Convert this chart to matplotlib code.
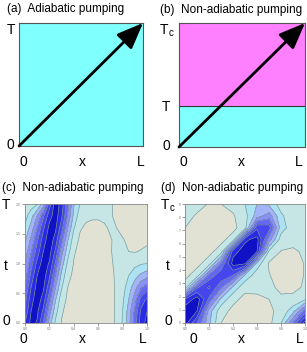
import numpy as np
import matplotlib
matplotlib.use("Agg")
import matplotlib.pyplot as plt
from matplotlib.colors import ListedColormap, BoundaryNorm

plt.rcParams['font.family'] = ['Liberation Sans', 'DejaVu Sans']

W, H = 307, 352

# ---------------- data ----------------
titles = ["(a)  Adiabatic pumping", "(b)  Non-adiabatic pumping",
          "(c)  Non-adiabatic pumping", "(d)  Non-adiabatic pumping"]
x_labels = ["0", "x", "L"]
T_frac_b = 0.33          # level of T inside Tc in panel (b)

# panel (c): rows t = 0..1 step 0.1, columns x = 0..1 step 0.05
field_c = [
    [7.0, 8.3, 7.9, 5.9, 3.5, 1.8, 0.95, 0.7, 0.55, 0.5, 0.5, 0.5, 0.5, 0.6, 0.8, 1.1, 2.1, 3.6, 5.5, 7.5, 8.3],
    [6.2, 8.0, 8.2, 6.8, 4.4, 2.4, 1.1, 0.75, 0.6, 0.5, 0.5, 0.5, 0.5, 0.6, 0.8, 1.1, 2.0, 3.4, 5.2, 7.2, 8.0],
    [5.6, 7.6, 8.6, 7.6, 5.4, 3.1, 1.4, 0.85, 0.65, 0.55, 0.5, 0.5, 0.5, 0.6, 0.8, 1.1, 1.8, 3.0, 4.5, 6.3, 7.2],
    [5.0, 7.0, 8.4, 8.2, 6.4, 4.0, 2.1, 1.0, 0.7, 0.55, 0.5, 0.5, 0.5, 0.6, 0.8, 1.1, 1.6, 2.5, 3.6, 4.8, 5.5],
    [4.5, 6.3, 8.0, 8.5, 7.2, 4.9, 2.7, 1.3, 0.8, 0.6, 0.5, 0.5, 0.5, 0.6, 0.85, 1.1, 1.4, 2.0, 2.6, 3.2, 3.6],
    [4.0, 5.6, 7.3, 8.5, 7.9, 5.9, 3.5, 1.8, 0.95, 0.7, 0.55, 0.5, 0.5, 0.6, 0.9, 1.15, 1.3, 1.5, 1.7, 1.9, 2.0],
    [3.4, 4.9, 6.5, 8.0, 8.4, 6.8, 4.4, 2.4, 1.1, 0.75, 0.6, 0.55, 0.6, 0.7, 0.95, 1.2, 1.15, 1.0, 0.95, 1.05, 1.2],
    [2.8, 4.2, 5.8, 7.5, 8.6, 7.6, 5.4, 3.1, 1.5, 0.85, 0.65, 0.6, 0.65, 0.75, 0.95, 1.15, 1.05, 0.85, 0.75, 0.75, 0.8],
    [2.2, 3.4, 5.0, 6.8, 8.3, 8.2, 6.4, 4.0, 2.1, 1.1, 0.85, 0.8, 0.8, 0.9, 1.1, 1.0, 0.8, 0.7, 0.65, 0.65, 0.65],
    [1.6, 2.6, 4.0, 5.8, 7.6, 8.5, 7.2, 4.9, 2.7, 1.5, 1.2, 1.1, 1.1, 1.15, 1.05, 0.9, 0.75, 0.65, 0.6, 0.6, 0.6],
    [1.2, 1.5, 1.9, 3.5, 6.5, 8.6, 7.6, 5.4, 3.1, 2.0, 1.5, 1.35, 1.25, 1.15, 1.05, 0.9, 0.75, 0.65, 0.6, 0.6, 0.6],
]

# panel (d): rows t = 0..1 step 0.1, columns x = 0..1 step 0.1
field_d = [
    [8.5, 6.0, 3.2, 1.0, 0.6, 0.5, 0.5, 0.7, 2.0, 5.0, 8.6],
    [8.8, 8.0, 3.5, 1.3, 0.8, 0.5, 0.55, 0.8, 1.3, 2.6, 5.5],
    [7.0, 8.6, 5.8, 2.8, 1.2, 0.8, 0.85, 1.0, 1.15, 1.2, 1.8],
    [1.5, 5.8, 7.2, 5.2, 2.8, 1.2, 1.2, 1.2, 0.8, 0.8, 1.1],
    [0.7, 1.5, 5.2, 6.8, 6.0, 2.8, 1.4, 1.05, 0.6, 0.6, 1.05],
    [0.5, 0.7, 1.5, 5.0, 8.4, 8.2, 2.6, 0.9, 0.6, 0.6, 1.05],
    [0.5, 0.5, 0.7, 1.5, 7.6, 8.5, 8.0, 1.8, 0.95, 0.9, 1.1],
    [0.6, 0.5, 0.5, 0.7, 1.5, 7.8, 8.4, 4.5, 1.5, 1.2, 1.2],
    [1.0, 0.6, 0.5, 0.5, 0.7, 1.6, 6.8, 6.5, 2.5, 1.4, 1.2],
    [1.3, 0.9, 0.6, 0.6, 0.9, 1.6, 3.5, 4.5, 2.2, 1.3, 1.2],
    [1.6, 1.3, 0.95, 1.0, 1.3, 2.0, 3.0, 2.8, 1.5, 1.3, 1.2],
]

levels = [0, 1, 2, 3, 4, 5, 6, 7, 8, 20]
band_colors = ['#E1E2D4', '#C6E6E6', '#ACE2F2', '#A4B4F8', '#8A8EF7',
               '#6668F3', '#4646EF', '#2A2AE6', '#1010C4']

c_xticks = [0.0, 0.2, 0.4, 0.6, 0.8, 1.0]
c_xticklabels = ["0.0", "0.2", "0.4", "0.6", "0.8", "1.0"]
c_yticks = [0.0, 0.25, 0.5, 0.75, 1.0]
c_yticklabels = ["0.0", "0.5", "1.0", "1.5", "2.0"]
d_yticks = list(np.linspace(0, 1, 10))
d_yticklabels = ["0", "1", "2", "3", "4", "5", "6", "7", "8", "9"]

# ---------------- figure ----------------
fig = plt.figure(figsize=(W / 100, H / 100), dpi=100)


def rect(l, t, r, b):
    return [l / W, 1 - b / H, (r - l) / W, (b - t) / H]


def ftext(x, y, s, size=10, ha='center', va='center', **kw):
    fig.text(x / W, 1 - y / H, s, fontsize=size, ha=ha, va=va, **kw)


cyan = '#80FFFF'
magenta = '#FF80FF'
edge = '#555555'


def arrow(ax):
    ax.annotate('', xy=(1, 1), xytext=(0, 0), xycoords='data',
                arrowprops=dict(arrowstyle='-|>,head_length=1.6,head_width=0.65',
                                lw=2, color='black', shrinkA=0, shrinkB=0,
                                mutation_scale=10))


# (a)
axa = fig.add_axes(rect(19, 23, 143, 146))
axa.set_xlim(0, 1)
axa.set_ylim(0, 1)
axa.axhspan(0, 1, color=cyan, lw=0)
arrow(axa)
# (b)
axb = fig.add_axes(rect(179, 23, 305, 147))
axb.set_xlim(0, 1)
axb.set_ylim(0, 1)
axb.axhspan(0, T_frac_b, color=cyan, lw=0)
axb.axhspan(T_frac_b, 1, color=magenta, lw=0)
axb.axhline(T_frac_b, color='#333333', lw=0.8)
arrow(axb)
for ax in (axa, axb):
    ax.set_xticks([])
    ax.set_yticks([])
    for s in ax.spines.values():
        s.set_color(edge)
        s.set_linewidth(0.8)

cmap = ListedColormap(band_colors)
norm = BoundaryNorm(levels, cmap.N)


def contour_panel(r, field, yt, ytl):
    ax = fig.add_axes(r)
    Z = np.array(field)
    xs = np.linspace(0, 1, Z.shape[1])
    ts = np.linspace(0, 1, Z.shape[0])
    ax.contourf(xs, ts, Z, levels=levels, cmap=cmap, norm=norm)
    ax.contour(xs, ts, Z, levels=levels[1:-1], colors='#7E9C9C', linewidths=0.5)
    ax.set_xlim(0, 1)
    ax.set_ylim(0, 1)
    ax.set_xticks(c_xticks)
    ax.set_xticklabels(c_xticklabels)
    ax.set_yticks(yt)
    ax.set_yticklabels(ytl)
    ax.tick_params(direction='out', length=2, width=0.5, labelsize=2.5,
                   colors='#777777', pad=1)
    for s in ax.spines.values():
        s.set_color('#888888')
        s.set_linewidth(0.6)
    return ax


contour_panel(rect(25, 204, 147, 323), field_c, c_yticks, c_yticklabels)
contour_panel(rect(185, 204, 305, 323), field_d, d_yticks, d_yticklabels)

# titles
ftext(7, 9, titles[0], size=8.5, ha='left')
ftext(160, 10, titles[1], size=8.5, ha='left')
ftext(2, 188, titles[2], size=8.5, ha='left')
ftext(161, 188, titles[3], size=8.5, ha='left')

# panel (a) labels
ftext(11, 30, "T")
ftext(10, 145, "0")
ftext(23, 162, x_labels[0])
ftext(82, 162, x_labels[1])
ftext(141, 162, x_labels[2])
# panel (b) labels
ftext(164, 30, "T")
ftext(171.5, 33, "c", size=7)
ftext(166, 107, "T")
ftext(166, 146, "0")
ftext(183, 162, x_labels[0])
ftext(241, 162, x_labels[1])
ftext(299, 162, x_labels[2])
# panel (c) labels
ftext(6, 205, "T")
ftext(6, 266, "t")
ftext(6, 321, "0")
ftext(23, 339, x_labels[0])
ftext(82, 339, x_labels[1])
ftext(143, 339, x_labels[2])
# panel (d) labels
ftext(165, 205, "T")
ftext(172.5, 208, "c", size=7)
ftext(168, 266, "t")
ftext(168, 321, "0")
ftext(193, 339, x_labels[0])
ftext(241, 339, x_labels[1])
ftext(300, 339, x_labels[2])

fig.savefig("out.png", dpi=100)
